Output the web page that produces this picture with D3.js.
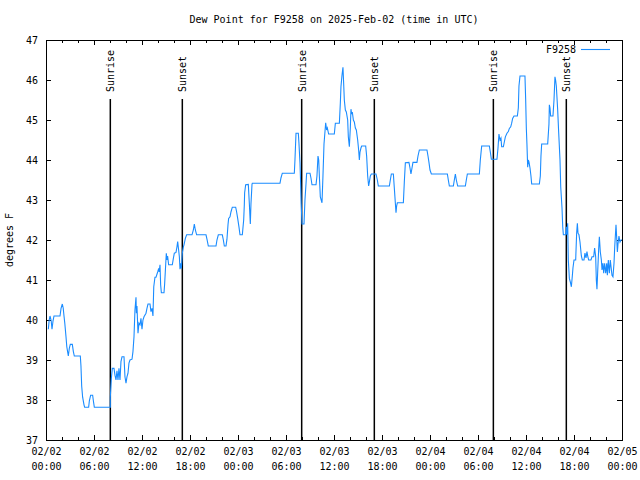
<!DOCTYPE html>
<html>
<head>
<meta charset="utf-8">
<script src="https://cdn.jsdelivr.net/npm/d3@7"></script>
<style>
    body { margin: 0; background: #fff; }
    #chart svg text { font-family: "DejaVu Sans Mono", monospace; font-size: 10px; fill: #000; }
</style>
</head>
<body>
<div id="chart"></div>
<script>
const chartTitle = "Dew Point for F9258 on 2025-Feb-02 (time in UTC)";
const stationName = "F9258";
const yAxisLabel = "degrees F";
const startUtc = Date.UTC(2025, 1, 2);   // 02/02 00:00 UTC
const spanHours = 72;

// hours after 02/02 00:00 UTC
const hours = [
    0.29, 0.40, 0.50, 0.65, 0.75, 0.88, 1.00, 1.75, 1.88, 2.04, 2.15, 2.25, 2.35, 2.50, 2.60, 2.70, 2.79, 2.92, 3.04, 3.29,
    3.42, 3.54, 4.29, 4.37, 4.46, 4.58, 4.75, 4.83, 5.33, 5.42, 5.58, 5.83, 5.92, 6.04, 8.04,
    8.04, 8.17, 8.29, 8.50, 8.62, 8.75, 8.87, 9.00, 9.12, 9.25, 9.37, 9.50, 9.75, 9.87, 10.00, 10.12, 10.25, 10.37, 10.50, 10.75,
    10.87, 11.00, 11.12, 11.25, 11.30, 11.37, 11.50, 11.62, 11.75, 11.87, 12.00, 12.12, 12.25, 12.50, 12.62, 12.75, 13.00, 13.12, 13.25, 13.37,
    13.47, 13.62, 13.75, 13.96, 14.09, 14.15, 14.25, 14.33, 14.42, 14.75, 14.83, 14.96, 15.04, 15.12, 15.20, 15.33, 15.79, 15.92, 16.04, 16.25,
    16.37, 16.46, 16.58, 16.67, 16.75, 16.83, 16.92, 17.04, 17.17, 17.25, 17.42, 17.58, 18.25, 18.42, 18.54, 18.67, 18.83, 20.00, 20.12, 20.29,
    21.25, 21.37, 21.54, 22.04, 22.17, 22.29, 22.50, 22.62, 22.75, 22.83, 23.00, 23.12, 23.29, 23.71, 23.83, 23.96, 24.12, 24.25, 24.54, 24.71,
    24.79, 24.83, 24.96, 25.29, 25.42, 25.54, 25.62, 25.75, 25.79, 29.25, 29.37, 29.54, 31.04, 31.12, 31.25, 31.54, 31.62, 31.75, 31.83, 31.90,
    32.00, 32.25, 32.37, 32.50, 32.58, 33.00, 33.12, 33.25, 33.75, 33.87, 34.00, 34.09, 34.17, 34.29, 34.50, 34.62, 34.75, 34.96, 35.08, 35.17,
    35.33, 36.04, 36.17, 36.67, 36.79, 36.87, 37.00, 37.12, 37.21, 37.29, 37.42, 37.54, 37.71, 37.79, 37.92, 38.04, 38.12, 38.21, 38.29, 38.42,
    38.54, 38.67, 38.79, 38.96, 39.08, 39.17, 39.25, 39.37, 39.46, 39.96, 40.08, 40.21, 40.33, 40.42, 40.54, 40.67, 41.25, 41.42, 41.54, 42.92,
    43.04, 43.17, 43.42, 43.54, 43.67, 43.75, 43.83, 43.92, 44.67, 44.79, 44.92, 45.37, 45.50, 45.62, 45.75, 45.87, 46.37, 46.50, 46.67, 47.62,
    47.75, 47.87, 48.00, 48.17, 50.17, 50.29, 50.42, 50.92, 51.04, 51.17, 51.29, 51.46, 52.42, 52.54, 52.67, 54.17, 54.29, 54.46, 55.42, 55.54,
    55.67, 56.37, 56.50, 56.62, 56.75, 56.87, 56.96, 57.17, 57.29, 57.42, 57.62, 57.79, 57.92, 58.09, 58.21, 58.33, 58.50, 58.92, 59.04, 59.12,
    59.25, 59.87, 59.96, 60.04, 60.12, 60.21, 60.29, 60.37, 60.50, 60.62, 60.71, 61.67, 61.79, 61.87, 61.96, 62.71, 62.79, 62.87, 62.92, 63.00,
    63.08, 63.37, 63.50, 63.62, 63.70, 63.79, 63.96, 64.09, 64.25, 64.34, 64.50, 64.59, 64.67, 64.96, 65.04, 65.12, 65.21, 65.29, 65.42, 65.54,
    65.67, 65.79, 65.87, 66.00, 66.21, 66.33, 66.42, 66.50, 66.62, 66.75, 66.92, 67.04, 67.25, 67.37, 67.50, 67.62, 67.71, 67.83, 68.12, 68.25,
    68.46, 68.58, 68.71, 68.79, 68.87, 68.96, 69.09, 69.17, 69.29, 69.42, 69.50, 69.62, 69.71, 69.83, 69.96, 70.09, 70.17, 70.29, 70.42, 70.54,
    70.62, 70.75, 70.87, 71.00, 71.09, 71.25, 71.33, 71.42, 71.50, 71.62, 71.75, 71.87, 72.00
];

// dew point, degrees F
const dewF = [
    39.77, 40.00, 40.10, 39.98, 39.77, 39.98, 40.10, 40.10, 40.29, 40.40, 40.30, 40.10, 39.92, 39.58, 39.33, 39.21, 39.10, 39.30, 39.39, 39.39,
    39.21, 39.10, 39.10, 38.85, 38.35, 38.07, 37.88, 37.82, 37.82, 37.98, 38.12, 38.12, 37.98, 37.82, 37.82,
    38.07, 38.54, 38.79, 38.79, 38.62, 38.50, 38.73, 38.50, 38.79, 38.50, 38.96, 39.08, 39.08, 38.58, 38.42, 38.58, 38.67, 38.92, 39.00, 39.02,
    39.21, 39.58, 40.25, 40.57, 40.17, 40.35, 39.67, 39.92, 39.88, 40.04, 39.77, 40.00, 40.08, 40.17, 40.29, 40.40, 40.40, 40.21, 40.29, 40.10,
    40.83, 41.07, 41.07, 41.20, 41.29, 41.20, 41.38, 40.88, 40.68, 40.68, 40.90, 41.38, 41.67, 41.50, 41.60, 41.38, 41.38, 41.54, 41.67, 41.69,
    41.83, 41.96, 41.75, 41.58, 41.27, 41.42, 41.29, 41.67, 41.83, 41.88, 42.04, 42.13, 42.13, 42.25, 42.40, 42.25, 42.13, 42.13, 42.02, 41.85,
    41.85, 42.00, 42.13, 42.13, 42.00, 41.85, 41.85, 42.02, 42.38, 42.54, 42.58, 42.70, 42.82, 42.82, 42.70, 42.54, 42.33, 42.13, 42.13, 42.50,
    42.88, 43.18, 43.38, 43.39, 42.90, 42.40, 42.90, 43.39, 43.42, 43.42, 43.55, 43.67, 43.67, 44.00, 44.67, 44.67, 44.42, 43.92, 43.40, 42.90,
    42.40, 42.40, 43.00, 43.40, 43.67, 43.67, 43.55, 43.38, 43.38, 43.60, 44.10, 44.00, 43.60, 43.08, 42.93, 43.60, 44.40, 44.93, 44.75, 44.80,
    44.65, 44.65, 44.92, 44.92, 45.42, 45.83, 46.12, 46.32, 45.90, 45.50, 45.25, 45.20, 45.00, 44.58, 44.33, 44.80, 45.27, 45.15, 45.20, 45.00,
    44.95, 44.80, 44.75, 44.50, 44.25, 44.00, 44.20, 44.30, 44.35, 44.35, 44.10, 43.60, 43.35, 43.45, 43.60, 43.65, 43.65, 43.50, 43.35, 43.35,
    43.50, 43.65, 43.65, 43.30, 42.92, 42.68, 42.85, 42.93, 42.93, 43.45, 43.93, 43.94, 43.80, 43.65, 43.80, 43.94, 43.94, 44.10, 44.25, 44.25,
    44.10, 43.94, 43.75, 43.65, 43.65, 43.50, 43.35, 43.35, 43.50, 43.65, 43.50, 43.35, 43.35, 43.50, 43.65, 43.65, 44.00, 44.35, 44.35, 44.20,
    44.02, 44.02, 44.30, 44.65, 44.50, 44.55, 44.33, 44.33, 44.45, 44.58, 44.67, 44.71, 44.79, 44.83, 44.92, 45.04, 45.10, 45.10, 45.30, 45.85,
    46.10, 46.10, 45.50, 44.80, 44.38, 43.82, 44.00, 43.95, 43.80, 43.60, 43.40, 43.40, 43.60, 44.10, 44.40, 44.40, 44.65, 44.90, 45.38, 45.30,
    45.10, 45.10, 45.50, 46.08, 46.00, 45.85, 45.25, 44.67, 44.00, 43.33, 42.80, 42.33, 42.13, 42.13, 42.33, 42.13, 42.42, 41.50, 41.04, 40.95,
    40.83, 41.10, 41.30, 41.50, 41.50, 42.17, 42.42, 42.17, 42.13, 41.95, 41.60, 41.50, 41.50, 41.67, 41.55, 41.71, 41.60, 41.50, 41.50, 41.58,
    41.58, 41.80, 41.58, 41.00, 40.77, 41.20, 41.80, 42.08, 41.70, 41.50, 41.25, 41.42, 41.17, 41.42, 41.17, 41.42, 41.12, 41.50, 41.17, 41.50,
    41.35, 41.12, 41.08, 41.42, 41.83, 42.38, 42.08, 41.70, 41.90, 42.10, 41.95, 42.00, 42.00
];

const sunLabels = ["Sunrise", "Sunset", "Sunrise", "Sunset", "Sunrise", "Sunset"];
const sunHours = [8.04, 17.04, 31.96, 41.04, 55.92, 65.04];
const yTickValues = [37, 38, 39, 40, 41, 42, 43, 44, 45, 46, 47];

class DewPointChart {
    constructor(parentElement) {
        this.parentElement = parentElement;
        this.initVis();
    }

    initVis() {
        let vis = this;

        vis.margin = {top: 40, right: 18, bottom: 40, left: 46};
        vis.width = 640 - vis.margin.left - vis.margin.right;
        vis.height = 480 - vis.margin.top - vis.margin.bottom;

        vis.root = d3.select("#" + vis.parentElement).append("svg")
            .attr("width", 640)
            .attr("height", 480);

        vis.svg = vis.root.append("g")
            .attr("transform", "translate(" + vis.margin.left + "," + vis.margin.top + ")");

        vis.t0 = new Date(startUtc);
        vis.t1 = new Date(startUtc + spanHours * 3600e3);

        vis.x = d3.scaleUtc()
            .domain([vis.t0, vis.t1])
            .range([0, vis.width]);

        vis.y = d3.scaleLinear()
            .domain([37, 47])
            .range([vis.height, 0]);

        vis.data = hours.map((h, i) => ({time: new Date(startUtc + h * 3600e3), dew: dewF[i]}));
        vis.sun = sunHours.map((h, i) => ({time: new Date(startUtc + h * 3600e3), label: sunLabels[i]}));

        vis.updateVis();
    }

    updateVis() {
        let vis = this;

        let major = d3.utcHour.every(6).range(vis.t0, new Date(+vis.t1 + 1));
        let minor = d3.utcHour.every(2).range(vis.t0, new Date(+vis.t1 + 1));
        let fmtDay = d3.utcFormat("%m/%d");
        let fmtHour = d3.utcFormat("%H:%M");

        // minor ticks, bottom and top
        vis.svg.append("g")
            .attr("transform", "translate(0," + vis.height + ")")
            .call(d3.axisBottom(vis.x).tickValues(minor).tickSize(-3).tickSizeOuter(0).tickFormat(""));
        vis.svg.append("g")
            .call(d3.axisTop(vis.x).tickValues(minor).tickSize(-3).tickSizeOuter(0).tickFormat(""));

        // major x ticks with two-line labels
        vis.xAxis = vis.svg.append("g")
            .attr("transform", "translate(0," + vis.height + ")")
            .call(d3.axisBottom(vis.x).tickValues(major).tickSize(-5).tickSizeOuter(0).tickPadding(8).tickFormat(""));
        vis.xAxis.selectAll(".tick text").each(function(d) {
            let t = d3.select(this);
            t.append("tspan").attr("x", 0).text(fmtDay(d));
            t.append("tspan").attr("x", 0).attr("dy", "1.5em").text(fmtHour(d));
        });
        vis.svg.append("g")
            .call(d3.axisTop(vis.x).tickValues(major).tickSize(-5).tickSizeOuter(0).tickFormat(""));

        // y ticks
        vis.svg.append("g")
            .call(d3.axisLeft(vis.y).tickValues(yTickValues).tickSize(-5).tickSizeOuter(0).tickPadding(8).tickFormat(d3.format("d")));
        vis.svg.append("g")
            .attr("transform", "translate(" + vis.width + ",0)")
            .call(d3.axisRight(vis.y).tickValues(yTickValues).tickSize(-5).tickSizeOuter(0).tickFormat(""));

        vis.svg.selectAll(".domain").remove();
        vis.svg.selectAll(".tick line").attr("stroke", "#000");
        vis.svg.selectAll("g").attr("font-family", null).attr("font-size", null);

        // sunrise / sunset markers
        let sun = vis.svg.selectAll(".sun")
            .data(vis.sun)
            .enter()
            .append("g")
            .attr("class", "sun")
            .attr("transform", d => "translate(" + vis.x(d.time) + ",0)");
        sun.append("line")
            .attr("y1", 59)
            .attr("y2", vis.height)
            .attr("stroke", "#000")
            .attr("stroke-width", 1.5);
        sun.append("text")
            .attr("transform", "translate(4,52) rotate(-90)")
            .attr("text-anchor", "start")
            .text(d => d.label);

        // data line
        vis.line = d3.line()
            .x(d => vis.x(d.time))
            .y(d => vis.y(d.dew));

        vis.svg.append("path")
            .datum(vis.data)
            .attr("fill", "none")
            .attr("stroke", "#1a8cff")
            .attr("stroke-width", 1.1)
            .attr("d", vis.line);

        // frame
        vis.svg.append("rect")
            .attr("x", 0.5)
            .attr("y", 0.5)
            .attr("width", vis.width)
            .attr("height", vis.height)
            .attr("fill", "none")
            .attr("stroke", "#000");

        // legend
        vis.svg.append("text")
            .attr("x", vis.width - 46)
            .attr("y", 13)
            .attr("text-anchor", "end")
            .text(stationName);
        vis.svg.append("line")
            .attr("x1", vis.width - 41)
            .attr("x2", vis.width - 12)
            .attr("y1", 9.5)
            .attr("y2", 9.5)
            .attr("stroke", "#1a8cff")
            .attr("stroke-width", 1.1);

        // titles
        vis.root.append("text")
            .attr("x", vis.margin.left + vis.width / 2)
            .attr("y", 23)
            .attr("text-anchor", "middle")
            .text(chartTitle);

        vis.root.append("text")
            .attr("transform", "translate(13," + (vis.margin.top + vis.height / 2) + ") rotate(-90)")
            .attr("text-anchor", "middle")
            .text(yAxisLabel);
    }
}

new DewPointChart("chart");
</script>
</body>
</html>
